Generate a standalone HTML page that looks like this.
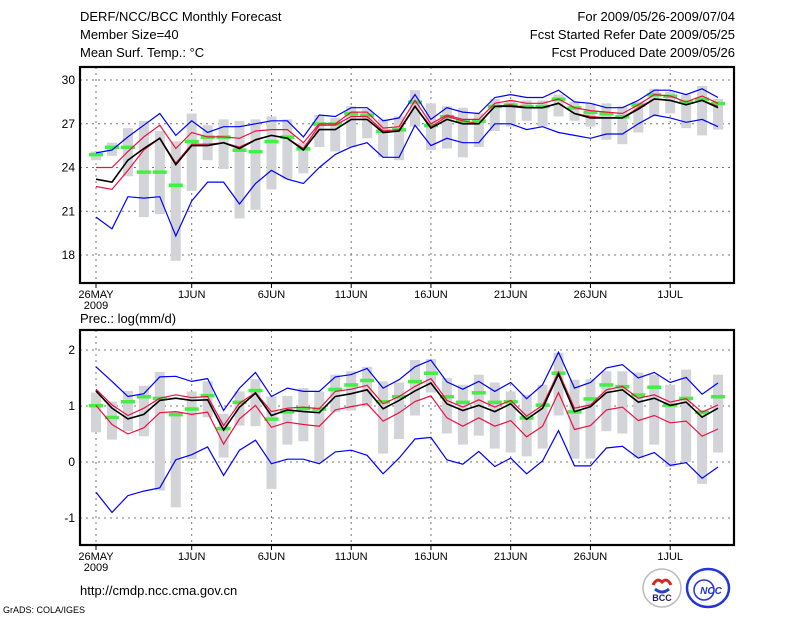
<!DOCTYPE html>
<html><head><meta charset="utf-8"><style>
body{margin:0;background:#fff;}
svg{display:block;font-family:"Liberation Sans",sans-serif;}
</style></head><body>
<svg id="chart" width="800" height="618" viewBox="0 0 800 618">
<rect width="800" height="618" fill="#fff"/>
<g font-size="13" fill="#000">
<text x="80" y="21">DERF/NCC/BCC Monthly Forecast</text>
<text x="80" y="39">Member Size=40</text>
<text x="80" y="57">Mean Surf. Temp.: °C</text>
</g>
<g font-size="13" fill="#000" text-anchor="end">
<text x="735" y="21">For 2009/05/26-2009/07/04</text>
<text x="735" y="39">Fcst Started Refer Date 2009/05/25</text>
<text x="735" y="57">Fcst Produced Date 2009/05/26</text>
</g>
<text x="80" y="323" font-size="13">Prec.: log(mm/d)</text>
<text x="80" y="595" font-size="13">http://cmdp.ncc.cma.gov.cn</text>
<text x="3" y="613" font-size="9">GrADS: COLA/IGES</text>
<g>
<circle cx="662" cy="588" r="19" fill="#fff" stroke="#bbb" stroke-width="1.5"/>
<path d="M653 585 q4 -8 9 -3 q5 -5 9 3" fill="none" stroke="#d22" stroke-width="3"/>
<path d="M655 589 q7 6 14 0" fill="none" stroke="#24c" stroke-width="3"/>
<text x="662" y="601" font-size="9" font-weight="bold" text-anchor="middle" fill="#225">BCC</text>
</g>
<g>
<ellipse cx="708" cy="588" rx="21" ry="19" fill="#fff" stroke="#2233dd" stroke-width="2.5"/>
<circle cx="704" cy="590" r="10" fill="none" stroke="#2233dd" stroke-width="1.5"/>
<text x="711" y="594" font-size="10" font-weight="bold" font-style="italic" text-anchor="middle" fill="#2233dd">NCC</text>
</g>
<g id="plots"></g>
</svg>
<script>
const days = ["26MAY","1JUN","6JUN","11JUN","16JUN","21JUN","26JUN","1JUL"];
const dayIdx = [0,6,11,16,21,26,31,36];
// Temperature panel
const tBlueHi=[25.0,25.2,26.1,26.9,27.7,26.2,27.2,26.4,26.8,26.8,27.0,27.2,27.2,26.1,27.6,27.5,28.1,28.1,27.2,27.4,29.0,27.3,28.1,27.8,27.7,28.8,29.0,28.8,28.8,29.3,28.5,28.4,28.1,28.1,28.6,29.3,29.3,29.0,29.4,28.8];
const tBlueLo=[20.6,19.8,22.0,21.9,22.0,19.3,21.7,23.0,23.0,21.5,22.9,23.8,23.2,22.9,24.0,24.9,25.4,25.7,24.7,24.7,26.9,25.5,26.0,25.7,25.7,27.0,27.0,26.6,26.8,26.4,26.2,26.0,26.3,26.3,27.0,27.6,27.4,27.1,27.3,26.8];
const tRedHi=[24.0,24.0,25.1,26.1,26.9,25.3,26.4,26.1,26.1,26.0,26.5,26.6,26.6,25.7,27.0,27.0,27.8,27.8,26.7,26.8,28.6,27.0,27.6,27.3,27.3,28.4,28.6,28.4,28.4,28.7,28.1,27.9,27.8,27.7,28.3,29.0,28.9,28.5,28.9,28.4];
const tRedLo=[22.7,22.5,23.8,25.2,26.0,24.3,25.6,25.6,25.7,25.4,25.9,26.2,26.0,25.3,26.9,26.9,27.5,27.5,26.5,26.6,28.2,26.8,27.5,27.2,27.0,28.2,28.3,28.1,28.1,28.4,27.7,27.5,27.4,27.4,28.1,28.7,28.6,28.3,28.6,28.2];
const tMean=[23.2,23.0,24.5,25.3,26.0,24.2,25.5,25.5,25.7,25.3,25.9,26.2,26.0,25.2,26.6,26.6,27.3,27.3,26.4,26.5,28.2,26.7,27.3,27.0,27.0,28.2,28.2,28.1,28.1,28.4,27.7,27.4,27.4,27.4,28.0,28.7,28.6,28.3,28.6,28.1];
const tBarHi=[25.1,25.7,26.7,27.2,26.5,25.8,27.7,26.9,27.3,27.2,27.3,27.5,27.3,25.7,27.6,27.4,28.2,28.0,27.3,27.5,29.3,28.4,28.2,28.1,27.7,28.7,28.6,28.6,28.6,29.0,28.5,28.4,28.4,28.2,28.5,29.4,29.2,29.0,29.6,28.7];
const tBarLo=[24.5,24.8,23.4,20.6,20.8,17.6,22.4,24.5,23.9,20.5,21.1,22.5,23.2,23.6,25.4,25.1,25.4,26.0,24.7,24.5,26.8,25.2,25.3,24.7,25.4,26.5,26.8,27.2,26.8,27.5,27.2,26.8,25.9,25.6,26.4,27.5,27.7,26.7,26.2,26.6];
const tObs=[24.9,25.4,25.4,23.7,23.7,22.8,25.8,26.1,26.1,25.2,25.1,25.8,26.1,25.3,27.0,27.0,27.7,27.6,26.5,26.6,28.5,26.9,27.5,27.2,27.2,28.2,28.3,28.2,28.2,28.7,28.1,27.8,27.7,27.5,28.3,29.0,28.9,28.5,28.7,28.4];
const tTicks=[30,27,24,21,18];
// Precipitation panel
const pBlueHi=[1.70,1.44,1.17,1.22,1.52,1.53,1.44,1.49,0.92,1.32,1.60,1.17,1.32,1.26,1.26,1.52,1.56,1.67,1.32,1.47,1.70,1.82,1.43,1.30,1.44,1.26,1.42,1.13,1.38,1.96,1.32,1.42,1.68,1.74,1.50,1.60,1.42,1.51,1.21,1.41];
const pBlueLo=[-0.54,-0.90,-0.60,-0.52,-0.46,0.04,0.13,0.27,-0.24,0.21,0.39,-0.03,0.05,0.05,-0.03,0.18,0.21,0.12,-0.21,0.07,0.41,0.44,0.04,-0.04,0.19,-0.08,0.07,-0.21,0.02,0.56,-0.07,-0.07,0.25,0.28,0.07,0.17,-0.06,-0.01,-0.29,-0.09];
const pRedHi=[1.30,1.02,0.83,0.96,1.14,1.20,1.15,1.17,0.65,1.05,1.24,0.90,0.96,0.98,0.95,1.26,1.30,1.37,1.04,1.17,1.35,1.49,1.10,0.98,1.11,0.98,1.10,0.82,1.01,1.61,0.96,1.02,1.29,1.35,1.14,1.20,1.07,1.13,0.89,1.02];
const pRedLo=[1.01,0.67,0.50,0.61,0.88,0.90,0.85,0.89,0.32,0.77,1.01,0.62,0.71,0.67,0.64,0.93,0.99,1.04,0.73,0.88,1.08,1.18,0.79,0.64,0.79,0.64,0.74,0.45,0.64,1.24,0.58,0.65,0.93,0.98,0.74,0.83,0.70,0.73,0.46,0.59];
const pMean=[1.27,0.96,0.77,0.85,1.10,1.14,1.10,1.11,0.57,0.98,1.23,0.83,0.93,0.90,0.88,1.17,1.22,1.29,0.95,1.10,1.27,1.41,1.04,0.92,1.01,0.90,1.04,0.76,0.96,1.57,0.90,0.99,1.24,1.29,1.07,1.14,1.01,1.07,0.80,0.96];
const pBarHi=[1.24,1.08,1.27,1.36,1.61,0.90,1.26,1.44,0.86,1.26,1.48,1.17,1.18,1.32,1.26,1.56,1.62,1.70,1.44,1.42,1.82,1.84,1.50,1.38,1.56,1.42,1.26,1.20,1.38,1.95,1.47,1.48,1.62,1.62,1.60,1.56,1.38,1.65,0.93,1.56];
const pBarLo=[0.53,0.40,0.55,0.46,-0.51,-0.81,0.05,0.80,0.08,0.65,0.64,-0.48,0.31,0.37,-0.01,0.89,0.92,0.99,0.15,0.41,0.83,1.24,0.51,0.31,0.47,0.24,0.17,0.10,0.24,0.83,0.06,0.06,0.55,0.51,0.07,0.31,-0.09,0.00,-0.39,0.17];
const pObs=[1.01,0.80,1.08,1.17,1.14,0.85,0.95,1.19,0.60,1.07,1.28,0.77,0.90,0.96,0.95,1.30,1.38,1.46,1.08,1.17,1.44,1.59,1.17,1.07,1.24,1.07,1.08,0.79,1.02,1.59,0.90,1.13,1.38,1.35,1.20,1.34,1.02,1.14,0.89,1.17];
const pTicks=[2,1,0,-1];

const NS="http://www.w3.org/2000/svg";
const X0=80, X1=734;
function xDay(i){return 96+i*15.95;}
function mk(tag,attrs,parent){const e=document.createElementNS(NS,tag);for(const k in attrs)e.setAttribute(k,attrs[k]);parent.appendChild(e);return e;}
const root=document.getElementById('plots');

function panel(name,top,bot,padT,padB,vTop,vBot,ticks,bHi,bLo,rHi,rLo,mean,barHi,barLo,obs){
  const g=mk('g',{},root);
  
  
  const y=v=>top+padT+(vTop-v)/(vTop-vBot)*(bot-top-padT-padB);
  ticks.forEach(t=>{
    const l=mk('line',{x1:X0,x2:X1,y1:y(t),y2:y(t),stroke:'#777','stroke-dasharray':'2,4','stroke-width':1},g);
    
    
    const tx=mk('text',{x:75,y:y(t)+4,'font-size':12,'text-anchor':'end'},g);
    tx.textContent=t;
    
    
  });
  dayIdx.forEach((d,k)=>{
    const x=xDay(d);
    const l=mk('line',{x1:x,x2:x,y1:top,y2:bot,stroke:'#777','stroke-dasharray':'2,4','stroke-width':1},g);
    
    
    mk('line',{x1:x,x2:x,y1:bot,y2:bot+5,stroke:'#000','stroke-width':1},g);
    const tx=mk('text',{x:x,y:bot+15,'font-size':11,'text-anchor':'middle'},g);
    tx.textContent=days[k];
    
    
  });
  const yr=mk('text',{x:xDay(0),y:bot+26,'font-size':11,'text-anchor':'middle'},g);
  yr.textContent='2009';
  
  
  barHi.forEach((v,i)=>{
    const r=mk('rect',{x:xDay(i)-5,y:y(v),width:10,height:y(barLo[i])-y(v),fill:'#d3d4d8'},g);
    
    
  });
  obs.forEach((v,i)=>{
    const r=mk('rect',{x:xDay(i)-7,y:y(v)-1.5,width:14,height:3.5,fill:'#44ee44'},g);
    
    
  });
  const line=(arr,col,w,nm)=>{
    const p=mk('polyline',{points:arr.map((v,i)=>xDay(i).toFixed(1)+','+y(v).toFixed(1)).join(' '),fill:'none',stroke:col,'stroke-width':w},g);
    
    
  };
  line(bHi,'#0000ff',1.2,'max-line');
  line(bLo,'#0000ff',1.2,'min-line');
  line(rHi,'#ee1144',1.2,'upper-spread-line');
  line(rLo,'#ee1144',1.2,'lower-spread-line');
  line(mean,'#000',1.6,'ensemble-mean-line');
  const f=mk('rect',{x:X0,y:top,width:X1-X0,height:bot-top,fill:'none',stroke:'#000','stroke-width':2.2},g);
  
  
}
panel('temperature-panel',67,283,13,28,30,18,tTicks,tBlueHi,tBlueLo,tRedHi,tRedLo,tMean,tBarHi,tBarLo,tObs);
panel('precipitation-panel',330,545,20,27,2,-1,pTicks,pBlueHi,pBlueLo,pRedHi,pRedLo,pMean,pBarHi,pBarLo,pObs);
</script>
</body></html>
